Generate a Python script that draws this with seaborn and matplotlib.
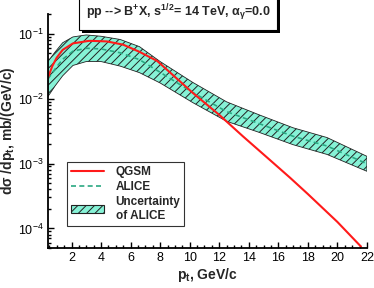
import numpy as np
import pandas as pd
import matplotlib
matplotlib.use("Agg")
import matplotlib.pyplot as plt
import matplotlib.patheffects as pe
from matplotlib.ticker import MultipleLocator, LogLocator, NullFormatter
from matplotlib.lines import Line2D
from matplotlib.patches import Patch
import seaborn as sns

# QGSM curve
qgsm_pt = [0.4, 0.7, 1.0, 1.4, 2.1, 3.2, 4.4, 5.5, 6.6, 7.8, 10.2, 12.0, 13.6, 15.4, 16.8, 18.0, 20.0, 21.6]
qgsm_val = [0.0209, 0.0316, 0.0427, 0.0562, 0.0708, 0.0776, 0.0759, 0.0676, 0.0525, 0.038,
            0.0123, 0.00562, 0.00263, 0.00115, 0.000603, 0.000339, 0.000126, 5.25e-5]

# ALICE band
alice_pt = [0.4, 0.9, 1.4, 2.1, 3.0, 4.0, 5.3, 6.6, 8.0, 10.2, 12.5, 14.7, 17.0, 19.3, 22.0]
alice_val = [0.020, 0.0288, 0.0403, 0.0537, 0.0596, 0.0582, 0.0507, 0.0398, 0.0254, 0.01245,
             0.0063, 0.00412, 0.00263, 0.00186, 0.00099]
alice_high = [0.0372, 0.0525, 0.0724, 0.0891, 0.0955, 0.0912, 0.0813, 0.0631, 0.0372, 0.0178,
              0.00891, 0.00562, 0.00355, 0.00251, 0.00129]
alice_low = [0.0107, 0.0158, 0.0224, 0.0324, 0.0372, 0.0372, 0.0316, 0.0251, 0.0174, 0.0087,
             0.00447, 0.00302, 0.00195, 0.00138, 0.000759]

sns.set_style("ticks")
plt.rcParams["font.family"] = ["Liberation Sans", "DejaVu Sans"]
plt.rcParams["mathtext.fontset"] = "custom"
plt.rcParams["mathtext.rm"] = "Liberation Sans"
plt.rcParams["mathtext.bf"] = "Liberation Sans:bold"
plt.rcParams["mathtext.it"] = "Liberation Sans:italic"
plt.rcParams["hatch.linewidth"] = 0.7

fig = plt.figure(figsize=(3.74, 2.88), dpi=100)
ax = fig.add_axes([0.128, 0.139, 0.853, 0.812])

ax.fill_between(alice_pt, alice_low, alice_high, facecolor="#86f2d6",
                edgecolor="#222222", hatch="////", linewidth=0.6)
df_a = pd.DataFrame({"pt": alice_pt, "val": alice_val})
sns.lineplot(data=df_a, x="pt", y="val", ax=ax, color="#2aa882", lw=1.2,
             linestyle=(0, (3, 2)))
df_q = pd.DataFrame({"pt": qgsm_pt, "val": qgsm_val})
sns.lineplot(data=df_q, x="pt", y="val", ax=ax, color="#ff1a1a", lw=1.5)

ax.set_yscale("log")
ax.set_xlim(0.4, 22)
ax.set_ylim(5e-5, 0.2)
ax.xaxis.set_major_locator(MultipleLocator(2))
ax.xaxis.set_minor_locator(MultipleLocator(0.5))
ax.yaxis.set_minor_locator(LogLocator(subs=np.arange(2, 10)))
ax.yaxis.set_minor_formatter(NullFormatter())
ax.tick_params(which="both", direction="in", width=1.0, labelsize=9, pad=3, colors="black")
ax.tick_params(which="major", length=4)
ax.tick_params(which="minor", length=2.5)
for s in ["top", "right"]:
    ax.spines[s].set_visible(False)
for s in ["left", "bottom"]:
    ax.spines[s].set_linewidth(1.3)
    ax.spines[s].set_color("black")

ax.set_xlabel(r"p$_\mathbf{t}$, GeV/c", fontsize=10, fontweight="bold", labelpad=1)
ax.set_ylabel(r"dσ /dp$_\mathbf{t}$, mb/(GeV/c)", fontsize=10, fontweight="bold", labelpad=1)

handles = [Line2D([], [], color="#ff1a1a", lw=1.5),
           Line2D([], [], color="#2aa882", lw=1.2, linestyle=(0, (3, 2))),
           Patch(facecolor="#86f2d6", edgecolor="#222222", hatch="////", lw=0.8)]
leg = ax.legend(handles, ["QGSM", "ALICE", "Uncertainty\nof ALICE"], loc="lower left",
                bbox_to_anchor=(0.04, 0.07), frameon=True, fancybox=False,
                edgecolor="black", handlelength=2.8, prop={"weight": "bold", "size": 8.5},
                borderpad=0.35, labelspacing=0.25, handletextpad=1.0)
leg.get_frame().set_linewidth(0.8)

t = fig.text(0.476, 0.955, r"pp --> B$^\mathbf{+}$X, s$^\mathbf{1/2}$= 14 TeV, $\mathbf{\alpha_\gamma}$=0.0",
             ha="center", va="center", fontsize=9, fontweight="bold",
             bbox=dict(boxstyle="square,pad=0.55", fc="white", ec="black", lw=0.8))
t.get_bbox_patch().set_path_effects([pe.SimplePatchShadow(offset=(2, -2), shadow_rgbFace="black", alpha=1),
                                     pe.Normal()])

fig.savefig("out.png", dpi=100)
